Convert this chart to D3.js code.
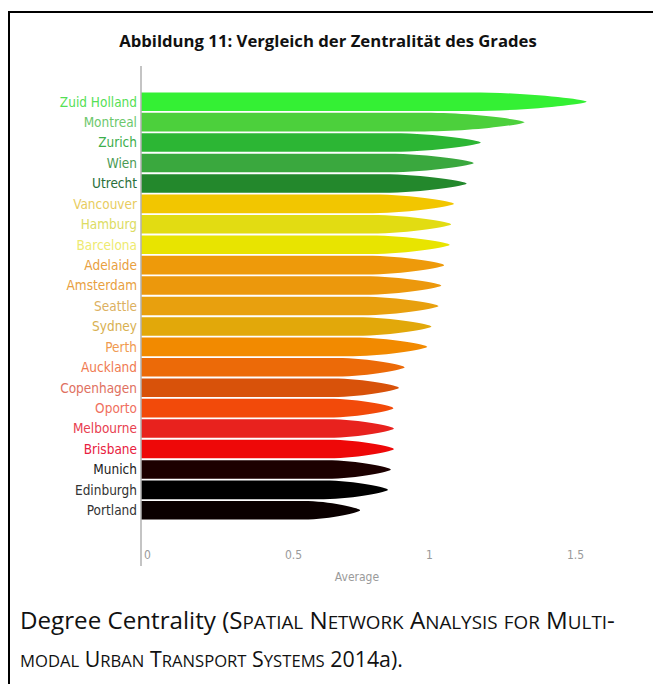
<!DOCTYPE html>
<html><head><meta charset="utf-8">
<script src="https://cdn.jsdelivr.net/npm/d3@7"></script>
<style>
html,body{margin:0;padding:0;background:#fff;}
svg{display:block;}
</style></head>
<body>
<svg id="chart" width="653" height="684"></svg>
<script>
const categories = ["Zuid Holland","Montreal","Zurich","Wien","Utrecht","Vancouver","Hamburg","Barcelona","Adelaide","Amsterdam","Seattle","Sydney","Perth","Auckland","Copenhagen","Oporto","Melbourne","Brisbane","Munich","Edinburgh","Portland"];
const values = [1.58,1.36,1.205,1.18,1.155,1.11,1.10,1.095,1.075,1.065,1.055,1.03,1.015,0.935,0.915,0.895,0.897,0.897,0.886,0.876,0.777];
const barColors = ["#34f034","#4cd03c","#2cb634","#3aa83e","#23882c","#f2c600","#e2dc12","#e8e400","#ee9a0a","#ec980c","#e8a00e","#e2a80a","#f28a00","#ec6a08","#d8520a","#f24a0a","#e8221e","#ee0808","#1c0000","#000000","#0a0000"];
const labelColors = ["#55e055","#6cc86c","#3cae4c","#4a9a52","#2a6e3a","#e8cc60","#dcdc62","#eeea70","#e8a040","#e8a040","#dcb060","#d8b050","#f09a50","#f07a50","#e07060","#f07060","#e84050","#e82040","#222222","#333333","#333333"];
const tickValues = [0,0.5,1,1.5];
const tickLabels = ["0","0.5","1","1.5"];
const title = "Abbildung 11: Vergleich der Zentralität des Grades";
const axisTitle = "Average";

const svg = d3.select("#chart");

// frame
svg.append("path").attr("d","M9,700 V12 H660").attr("fill","none").attr("stroke","#000").attr("stroke-width",2);

const tt = svg.append("text").attr("x",328).attr("y",47).attr("text-anchor","middle")
  .attr("font-family","'Open Sans','Liberation Sans',sans-serif").attr("font-weight","bold")
  .attr("font-size",15).attr("fill","#111").text(title);
{ const w = tt.node().getComputedTextLength(); tt.attr("font-size", 15*418/w); }

const x = d3.scaleLinear().domain([0,1]).range([141,423]);
const y = d3.scaleBand().domain(categories).range([92,520]).paddingInner(0.09).paddingOuter(0.02);

const data = categories.map((c,i)=>({c,v:values[i],col:barColors[i],lc:labelColors[i]}));

function barPath(d){
  const x0 = x(0), x1 = x(d.v), top = y(d.c), h = y.bandwidth(), bot = top+h, mid = top+h/2;
  const L = x1-x0, T = Math.max(55, 0.26*L);
  return `M${x0},${top} H${x1-T} C${x1-T*0.5},${top} ${x1},${mid-h*0.1} ${x1},${mid} C${x1},${mid+h*0.1} ${x1-T*0.5},${bot} ${x1-T},${bot} H${x0} Z`;
}

svg.append("g").selectAll("path").data(data).join("path")
  .attr("d",barPath).attr("fill",d=>d.col);

svg.append("g").selectAll("text").data(data).join("text")
  .attr("x",137).attr("y",d=>y(d.c)+y.bandwidth()/2).attr("dy","0.36em")
  .attr("text-anchor","end")
  .attr("font-family","'Liberation Sans Narrow','DejaVu Sans Condensed','Roboto Condensed',sans-serif")
  .attr("font-size",13.5).attr("fill",d=>d.lc).text(d=>d.c);

// axis line
svg.append("line").attr("x1",141).attr("x2",141).attr("y1",66).attr("y2",566)
  .attr("stroke","#b0b0b0").attr("stroke-width",1.5);

svg.append("g").selectAll("text").data(tickValues).join("text")
  .attr("x",(d)=>x(d)+3).attr("y",559)
  .attr("font-family","'Liberation Sans Narrow','DejaVu Sans Condensed',sans-serif")
  .attr("font-size",12).attr("fill","#9a9a9a").text((d,i)=>tickLabels[i]);

svg.append("text").attr("x",357).attr("y",581).attr("text-anchor","middle")
  .attr("font-family","'Liberation Sans Narrow','DejaVu Sans Condensed',sans-serif")
  .attr("font-size",12).attr("fill","#9a9a9a").text(axisTitle);

// caption with manual small caps
const capFont = "'Open Sans','Liberation Sans',sans-serif";
function addRuns(el, str, sc, size){
  if(!sc){ el.append("tspan").attr("font-size",size).attr("class","full").text(str); return; }
  const runs = str.match(/[a-z]+|[^a-z]+/g);
  runs.forEach(r=>{
    const small = /^[a-z]+$/.test(r);
    el.append("tspan").attr("class", small?"small":"full")
      .attr("font-size", small? size*0.78 : size).text(r.toUpperCase());
  });
}
function fitLine(el, target, size){
  const w = el.node().getComputedTextLength();
  const k = target / w;
  el.selectAll("tspan.full").attr("font-size", size*k);
  el.selectAll("tspan.small").attr("font-size", size*0.78*k);
}
const l1 = svg.append("text").attr("x",20).attr("y",629).attr("font-family",capFont).attr("fill","#111");
addRuns(l1,"Degree Centrality (",false,18);
addRuns(l1,"Spatial Network Analysis for Multi-",true,18);
fitLine(l1,595,18);
const l2 = svg.append("text").attr("x",20).attr("y",667).attr("font-family",capFont).attr("fill","#111");
addRuns(l2,"modal Urban Transport Systems",true,18);
addRuns(l2," 2014a).",false,18);
fitLine(l2,383,18);
</script>
</body></html>
